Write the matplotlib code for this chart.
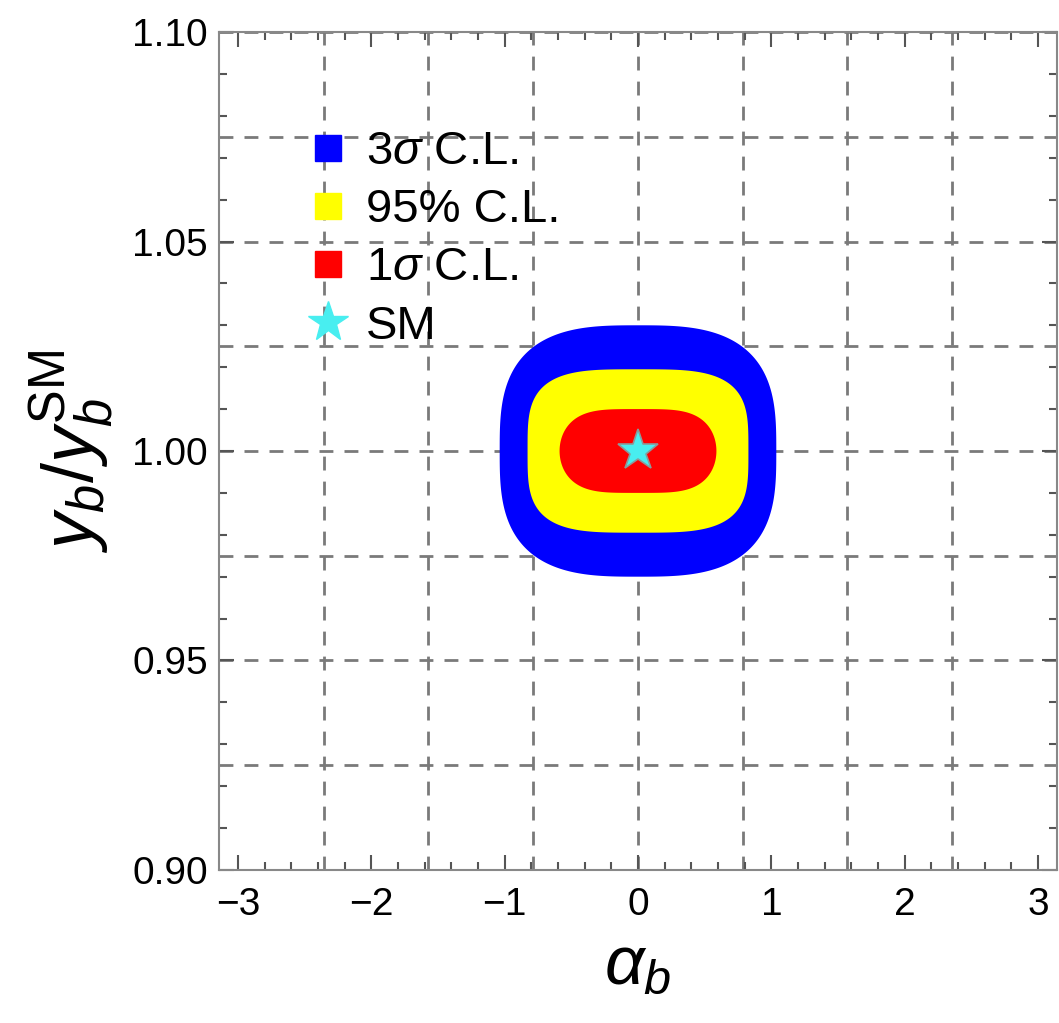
import numpy as np
import matplotlib
matplotlib.use("Agg")
import matplotlib.pyplot as plt
from matplotlib.lines import Line2D
from matplotlib.ticker import MultipleLocator

plt.rcParams['font.family'] = ['Liberation Sans', 'DejaVu Sans']
plt.rcParams['mathtext.fontset'] = 'custom'
plt.rcParams['mathtext.rm'] = 'Liberation Sans'
plt.rcParams['mathtext.it'] = 'Liberation Sans:italic'
plt.rcParams['mathtext.bf'] = 'Liberation Sans:bold'

# ---- data ----
level_labels = [r'3$\sigma$ C.L.', '95% C.L.', r'1$\sigma$ C.L.']
level_colors = ['#0000FF', '#FFFF00', '#FF0000']
center_alpha = 0.0
center_y = 1.0
half_width = [1.037, 0.828, 0.588]       # in alpha_b
half_height = [0.0300, 0.0195, 0.0100]   # in y_b/y_b^SM
exp_x = [3.0, 3.6, 4.0]
exp_y = [3.0, 3.6, 2.0]
sm_point = (0.0, 1.0)

x_ticks = [-3, -2, -1, 0, 1, 2, 3]
x_ticklabels = ['\u22123', '\u22122', '\u22121', '0', '1', '2', '3']
y_ticks = [0.90, 0.95, 1.00, 1.05, 1.10]
y_ticklabels = ['0.90', '0.95', '1.00', '1.05', '1.10']

fig = plt.figure(figsize=(10.59, 10.23), dpi=100)
ax = fig.add_axes([0.2068, 0.1496, 0.7913, 0.8191])

t = np.linspace(0, 2 * np.pi, 721)
for a, b, p, q, col in zip(half_width, half_height, exp_x, exp_y, level_colors):
    c, s = np.cos(t), np.sin(t)
    xs = center_alpha + a * np.sign(c) * np.abs(c) ** (2.0 / p)
    ys = center_y + b * np.sign(s) * np.abs(s) ** (2.0 / q)
    ax.fill(xs, ys, color=col, lw=0, zorder=2)

ax.plot([sm_point[0]], [sm_point[1]], marker='*', ms=31, mfc='#48EEF0',
        mec='#8a9a9a', mew=1.2, ls='none', zorder=4)

ax.set_xlim(-np.pi, np.pi)
ax.set_ylim(0.90, 1.10)

# grid at multiples of pi/4 and 0.025
for gx in np.arange(-3, 4) * np.pi / 4:
    ax.axvline(gx, color='#7a7a7a', lw=2.0, ls=(0, (5, 4)), zorder=1)
for gy in np.arange(0.925, 1.1, 0.025):
    ax.axhline(gy, color='#7a7a7a', lw=2.0, ls=(0, (5, 4)), zorder=1)

ax.set_xticks(x_ticks)
ax.set_xticklabels(x_ticklabels)
ax.set_yticks(y_ticks)
ax.set_yticklabels(y_ticklabels)
ax.xaxis.set_minor_locator(MultipleLocator(0.2))
ax.yaxis.set_minor_locator(MultipleLocator(0.01))
ax.tick_params(which='both', direction='in', top=True, right=True,
               color='#555555', width=1.5, labelsize=28, pad=10)
ax.tick_params(which='major', length=11)
ax.tick_params(which='minor', length=6)
ax.tick_params(axis='x', pad=12)
ax.tick_params(axis='y', pad=8)
for sp in ax.spines.values():
    sp.set_color('#888888')
    sp.set_linewidth(1.5)

ax.set_xlabel(r'$\alpha_b$', fontsize=50, labelpad=8)
ax.set_ylabel(r'$y_b/y_b^{\mathrm{SM}}$', fontsize=52, labelpad=12)

handles = [Line2D([], [], marker='s', ls='none', ms=19, mfc=c, mec=c) for c in level_colors]
handles.append(Line2D([], [], marker='*', ls='none', ms=30, mfc='#48EEF0', mec='#48EEF0'))
labels = level_labels + ['SM']
leg = ax.legend(handles, labels, loc='upper left', bbox_to_anchor=(0.105, 0.883),
                frameon=False, fontsize=34, handlelength=0.9, handletextpad=0.35,
                labelspacing=0.30, borderaxespad=0, borderpad=0)
leg.set_zorder(5)

fig.savefig('out.png', dpi=100)
